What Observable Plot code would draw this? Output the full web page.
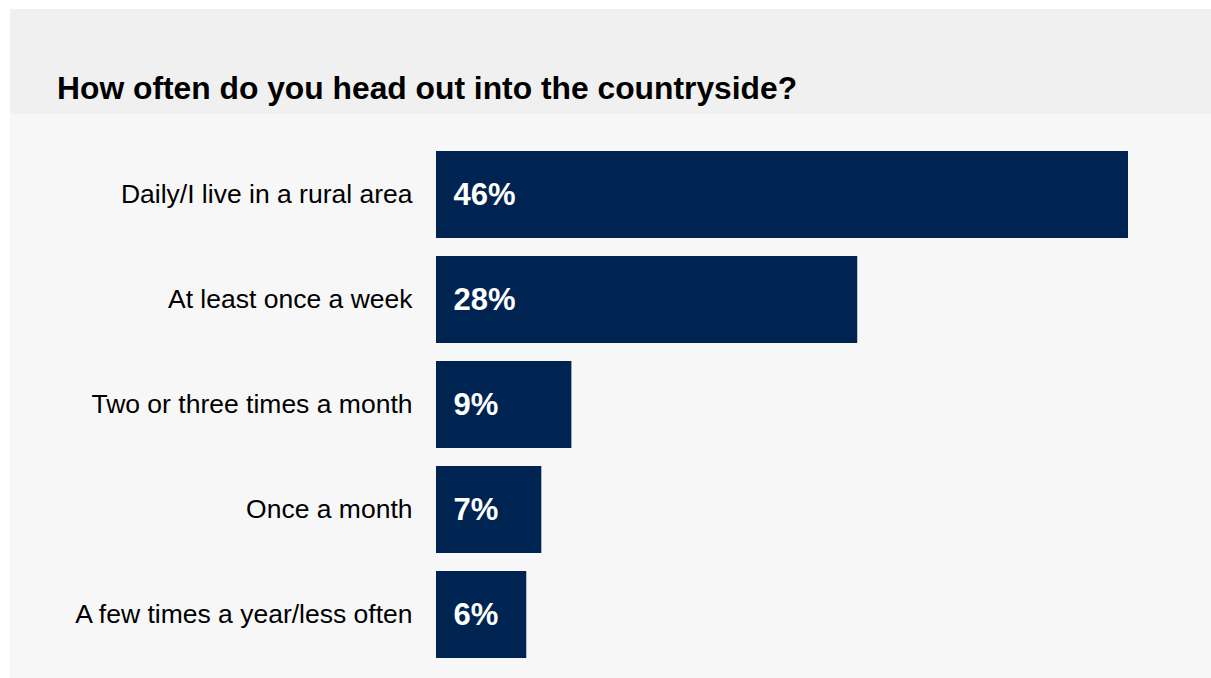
<!DOCTYPE html>
<html>
<head>
<meta charset="utf-8">
<script src="https://cdn.jsdelivr.net/npm/d3@7"></script>
<script src="https://cdn.jsdelivr.net/npm/@observablehq/plot@0.6"></script>
<style>
  html, body { margin: 0; padding: 0; background: #ffffff; }
  body { width: 1211px; height: 678px; overflow: hidden; font-family: "Liberation Sans", Arial, sans-serif; }
  #panel { position: absolute; left: 10px; top: 9px; width: 1201px; height: 669px; background: #f7f7f7; }
  #header { position: relative; width: 1201px; height: 105px; background: #f0f0f0; }
  #title { position: absolute; left: 47px; top: 63px; margin: 0; font-size: 31.8px; line-height: 32px; font-weight: bold; color: #000; white-space: nowrap; }
  #chart svg { display: block; }
</style>
</head>
<body>
<div id="panel">
  <div id="header"><h1 id="title">How often do you head out into the countryside?</h1></div>
  <div id="chart"></div>
</div>
<script>
const categories = [
  "Daily/I live in a rural area",
  "At least once a week",
  "Two or three times a month",
  "Once a month",
  "A few times a year/less often"
];
const values = [46, 28, 9, 7, 6];
const valueLabels = ["46%", "28%", "9%", "7%", "6%"];

const data = categories.map((c, i) => ({category: c, value: values[i], label: valueLabels[i]}));

const chart = Plot.plot({
  width: 1201,
  height: 564,
  marginLeft: 426,
  marginRight: 83,
  marginTop: 36,
  marginBottom: 19,
  style: {
    background: "#f7f7f7",
    fontFamily: "'Liberation Sans', Arial, sans-serif",
    fontSize: "26.5px",
    color: "#000"
  },
  x: {domain: [0, 46], axis: null},
  y: {domain: categories, paddingInner: 0.175, paddingOuter: 0, label: null},
  marks: [
    Plot.barX(data, {x: "value", y: "category", fill: "#002452"}),
    Plot.text(data, {x: 0, y: "category", text: "label", textAnchor: "start", dx: 17, fill: "#ffffff", fontWeight: "bold", fontSize: 31}),
    Plot.axisY({tickSize: 0, tickPadding: 24, fontSize: 26.5, label: null, fill: "#000"})
  ]
});
document.getElementById("chart").appendChild(chart);
</script>
</body>
</html>
